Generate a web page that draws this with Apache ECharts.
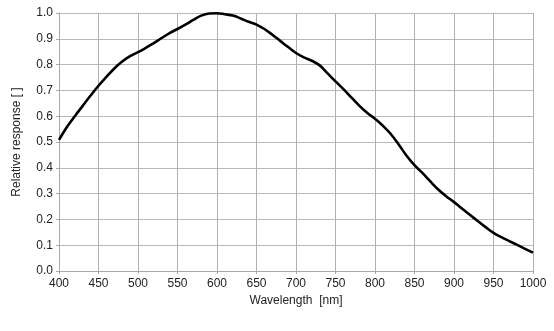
<!DOCTYPE html>
<html><head><meta charset="utf-8">
<script src="https://cdn.jsdelivr.net/npm/echarts@6/dist/echarts.min.js"></script>
<style>html,body{margin:0;padding:0;background:#fff}#c{width:554px;height:331px}</style>
</head><body><div id="c"></div>
<script>
const wavelengths = [400,410,420,430,440,450,460,470,480,490,500,510,520,530,540,550,560,570,580,590,600,610,620,630,640,650,660,670,680,690,700,710,720,730,740,750,760,770,780,790,800,810,820,830,840,850,860,870,880,890,900,910,920,930,940,950,960,970,980,990,1000];
const response = [0.508,0.558,0.60,0.64,0.68,0.718,0.752,0.785,0.812,0.833,0.848,0.865,0.883,0.903,0.922,0.938,0.955,0.973,0.99,0.998,0.999,0.995,0.99,0.979,0.966,0.955,0.938,0.916,0.892,0.868,0.845,0.828,0.815,0.797,0.766,0.735,0.705,0.673,0.641,0.613,0.59,0.563,0.531,0.49,0.447,0.41,0.38,0.347,0.316,0.29,0.267,0.242,0.218,0.194,0.17,0.148,0.131,0.116,0.101,0.086,0.071];
const xName = 'Wavelength  [nm]';
const yName = 'Relative response [ ]';

const chart = echarts.init(document.getElementById('c'));
const font = 'Liberation Sans, Arial, sans-serif';
chart.setOption({
  animation: false,
  grid: {left: 59, right: 21, top: 13, bottom: 60},
  xAxis: {
    type: 'value', min: 400, max: 1000, interval: 50,
    name: xName, nameLocation: 'middle', nameGap: 23,
    nameTextStyle: {color: '#222', fontFamily: font, fontSize: 12},
    axisLine: {show: true, lineStyle: {color: '#a8a8a8'}},
    axisTick: {show: true, length: 3, lineStyle: {color: '#a8a8a8'}},
    axisLabel: {color: '#222', fontFamily: font, fontSize: 12, margin: 7, formatter: v => String(v)},
    splitLine: {show: true, lineStyle: {color: '#b0b0b0', width: 1}}
  },
  yAxis: {
    type: 'value', min: 0, max: 1, interval: 0.1,
    name: yName, nameLocation: 'middle', nameGap: 36, nameRotate: 90,
    nameTextStyle: {color: '#222', fontFamily: font, fontSize: 12},
    axisLine: {show: true, lineStyle: {color: '#a8a8a8'}},
    axisTick: {show: true, length: 3, lineStyle: {color: '#a8a8a8'}},
    axisLabel: {color: '#222', fontFamily: font, fontSize: 12, margin: 6, formatter: v => v.toFixed(1)},
    splitLine: {show: true, lineStyle: {color: '#b8b8b8', width: 1}}
  },
  series: [{
    type: 'line', data: wavelengths.map((w, i) => [w, response[i]]),
    showSymbol: false, smooth: 0.4,
    lineStyle: {color: '#000', width: 2.6}
  }]
});
</script></body></html>
